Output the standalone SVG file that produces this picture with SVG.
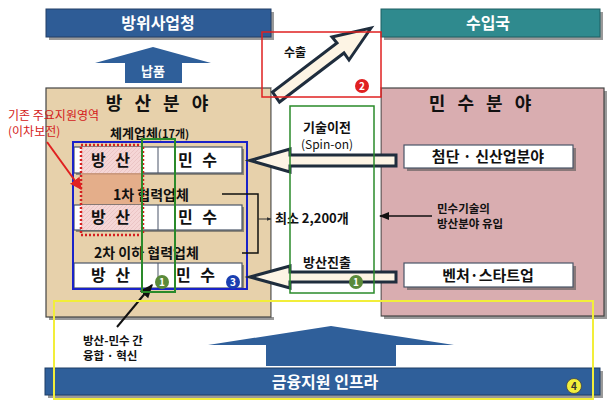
<svg xmlns="http://www.w3.org/2000/svg" width="613" height="409" viewBox="0 0 613 409">
<defs>
<style>
text{font-family:"Noto Sans CJK KR","Liberation Sans",sans-serif;font-weight:bold;fill:#111;}
.wt{fill:#fff;font-size:16px;text-anchor:middle;}
.hd{font-size:18px;text-anchor:middle;letter-spacing:4px;}
.rt{font-size:16px;text-anchor:middle;letter-spacing:3px;}
.bx{font-size:15px;text-anchor:middle;}
.m13{font-size:13px;text-anchor:middle;}
.m12{font-size:12px;text-anchor:middle;}
.s13{font-size:13px;}
.s12{font-size:12px;}
.s11{font-size:11.5px;}
.red{fill:#d42020;font-size:12px;font-weight:normal;}
.sh{fill:#555;opacity:0.6;}
.row{fill:#fff;stroke:#4a5568;stroke-width:1.2;}
.arr{fill:#fdf4e4;stroke:#1f2d3d;stroke-width:3;stroke-linejoin:miter;}
.cn{font-size:10px;text-anchor:middle;fill:#fff;}
</style>
<marker id="ah" viewBox="0 0 10 10" refX="9" refY="5" markerWidth="7" markerHeight="7" orient="auto"><path d="M0,1 L10,5 L0,9 z" fill="#111"/></marker>
<marker id="ahr" viewBox="0 0 10 10" refX="9" refY="5" markerWidth="6" markerHeight="6" orient="auto"><path d="M0,0 L10,5 L0,10 z" fill="#e02020"/></marker>
<marker id="ahs" viewBox="0 0 10 10" refX="9" refY="5" markerWidth="5" markerHeight="5" orient="auto"><path d="M0,1 L10,5 L0,9 z" fill="#333"/></marker>
<pattern id="hatch" width="4" height="4" patternUnits="userSpaceOnUse"><rect width="4" height="4" fill="#f5d6d6"/><path d="M0,4 L4,0" stroke="#e9c0c0" stroke-width="0.8"/></pattern>
</defs>
<rect width="613" height="409" fill="#fff"/>

<g id="dapa">
<rect class="sh" x="49" y="12" width="225" height="28"/>
<rect x="46" y="9" width="225" height="28" fill="#2e5c96" stroke="#233f66" stroke-width="1"/>
<text class="wt" x="158" y="29">방위사업청</text>
</g>

<g id="importer">
<rect class="sh" x="384" y="12" width="219" height="28"/>
<rect x="381" y="9" width="219" height="28" fill="#2f8a8e" stroke="#1f5f62" stroke-width="1"/>
<text class="wt" x="488" y="29">수입국</text>
</g>

<g id="defense-field">
<rect class="sh" x="49" y="91" width="225" height="229"/>
<rect x="46" y="88" width="225" height="229" fill="#e7d1ab" stroke="#444" stroke-width="1.2"/>
<text class="hd" x="159" y="110">방 산 분 야</text>
</g>

<g id="civil-field">
<rect class="sh" x="384" y="91" width="223" height="228"/>
<rect x="381" y="88" width="223" height="228" fill="#d9adb0" stroke="#444" stroke-width="1.2"/>
<text class="hd" x="482" y="110">민 수 분 야</text>
</g>

<g id="middle-strip">
<rect x="271.6" y="88" width="108.8" height="229" fill="#fff"/>
</g>

<g id="firms">
<text class="s13" x="110" y="138">체계업체<tspan style="font-size:11px">(17개)</tspan></text>
<rect class="sh" x="76" y="149" width="168" height="26"/>
<rect class="row" x="74" y="147" width="168" height="26"/>
<rect x="81" y="147" width="62" height="26" fill="url(#hatch)"/>
<line x1="158" y1="147" x2="158" y2="173" stroke="#4a5568" stroke-width="1"/>
<rect x="81" y="173" width="62" height="32" fill="#e3a582" opacity="0.8"/>
<text x="113" y="200" style="font-size:14px">1차 협력업체</text>
<rect class="sh" x="76" y="207" width="168" height="25"/>
<rect class="row" x="74" y="205" width="168" height="25"/>
<rect x="81" y="205" width="62" height="25" fill="url(#hatch)"/>
<line x1="158" y1="205" x2="158" y2="230" stroke="#4a5568" stroke-width="1"/>
<text x="94" y="258" style="font-size:14px">2차 이하 협력업체</text>
<rect class="sh" x="76" y="265" width="168" height="25"/>
<rect class="row" x="74" y="263" width="168" height="25"/>
<line x1="158" y1="263" x2="158" y2="288" stroke="#4a5568" stroke-width="1"/>
<text class="rt" x="112" y="166">방 산</text>
<text class="rt" x="199" y="166">민 수</text>
<text class="rt" x="112" y="223">방 산</text>
<text class="rt" x="199" y="223">민 수</text>
<text class="rt" x="112" y="281">방 산</text>
<text class="rt" x="197" y="281">민 수</text>
<rect x="81" y="145" width="62" height="90" fill="none" stroke="#d42020" stroke-width="2.5" stroke-dasharray="2,2"/>
<rect x="73" y="142" width="174" height="147" fill="none" stroke="#1a22c8" stroke-width="2"/>
</g>

<g id="supply-arrow">
<path d="M153,47 L211,63 L182,63 L182,83 L125,83 L125,63 L95,63 Z" fill="#2f5f9a"/>
<text class="wt" x="153" y="76" style="font-size:13px">납품</text>
</g>

<g id="finance">
<path d="M331,326 L454,345 L396,345 L396,366 L266,366 L266,345 L208,345 Z" fill="#2f5f9a"/>
<rect class="sh" x="48" y="371" width="555" height="27"/>
<rect x="45" y="368" width="555" height="27" fill="#2f5f9a" stroke="#1f3f66" stroke-width="1"/>
<text class="wt" x="325" y="388">금융지원 인프라</text>
</g>

<g id="hightech">
<rect class="sh" x="407" y="148" width="169" height="23"/>
<rect x="404" y="145" width="169" height="23" fill="#fff" stroke="#4a5568" stroke-width="1.2"/>
<text class="bx" x="488" y="162">첨단 · 신산업분야</text>
</g>

<g id="venture">
<rect class="sh" x="407" y="266" width="169" height="24"/>
<rect x="404" y="263" width="169" height="24" fill="#fff" stroke="#4a5568" stroke-width="1.2"/>
<text class="bx" x="488" y="281">벤처·스타트업</text>
</g>

<g id="connectors">
<path class="arr" d="M371,28 L349,60 L344,53 L279.5,102 L272.5,92 L337,43 L332,37 Z"/>
<path class="arr" d="M250,160.5 L290,149 L290,155 L396,155 L396,166 L290,166 L290,172 Z"/>
<path class="arr" d="M250,277 L290,266 L290,272 L396,272 L396,282 L290,282 L290,288 Z"/>
<polyline points="222,194 258,194 258,253 242,253" fill="none" stroke="#111" stroke-width="1.5"/>
<line x1="258" y1="219" x2="271" y2="219" stroke="#333" stroke-width="1" marker-end="url(#ahs)"/>
<line x1="432" y1="216" x2="380" y2="216" stroke="#111" stroke-width="1.5" marker-end="url(#ah)"/>
<line x1="47" y1="142" x2="81" y2="189" stroke="#e02020" stroke-width="2" marker-end="url(#ahr)"/>
<line x1="117" y1="327" x2="152" y2="285" stroke="#111" stroke-width="2" marker-end="url(#ah)"/>
</g>

<g id="labels">
<text x="284" y="57" class="s12">수출</text>
<text x="327" y="132" class="m13">기술이전</text>
<text x="327" y="149" class="m12" style="font-weight:normal">(Spin-on)</text>
<text x="275" y="223" class="s13">최소 2,200개</text>
<text x="327" y="267" class="m13">방산진출</text>
<text x="437" y="213" class="s11">민수기술의</text>
<text x="437" y="228" class="s11">방산분야 유입</text>
<text x="83" y="345" class="s11">방산-민수 간</text>
<text x="83" y="360" class="s11">융합 · 혁신</text>
<text x="8" y="120" class="red">기존 주요지원영역</text>
<text x="8" y="136" class="red">(이차보전)</text>
</g>

<g id="highlights">
<rect x="262" y="32" width="119" height="65" fill="none" stroke="#e02020" stroke-width="1.5"/>
<rect x="142" y="139" width="33" height="153" fill="none" stroke="#2a8a2a" stroke-width="2"/>
<rect x="290" y="106" width="84" height="187" fill="none" stroke="#2a8a2a" stroke-width="1.5"/>
<rect x="54" y="301" width="539" height="98" fill="none" stroke="#f2ee3a" stroke-width="2"/>
</g>

<g id="badges">
<circle cx="362" cy="86" r="7" fill="#e02020"/><text class="cn" x="362" y="90">2</text>
<circle cx="162" cy="282" r="7" fill="#5a8a3a"/><text class="cn" x="162" y="286">1</text>
<circle cx="356" cy="282" r="7" fill="#5a8a3a"/><text class="cn" x="356" y="286">1</text>
<circle cx="233" cy="282" r="7" fill="#1a3fb0"/><text class="cn" x="233" y="286">3</text>
<circle cx="574" cy="386" r="7.5" fill="#f2ee3a" stroke="#444" stroke-width="0.8"/><text class="cn" x="574" y="390" style="fill:#333">4</text>
</g>
</svg>
